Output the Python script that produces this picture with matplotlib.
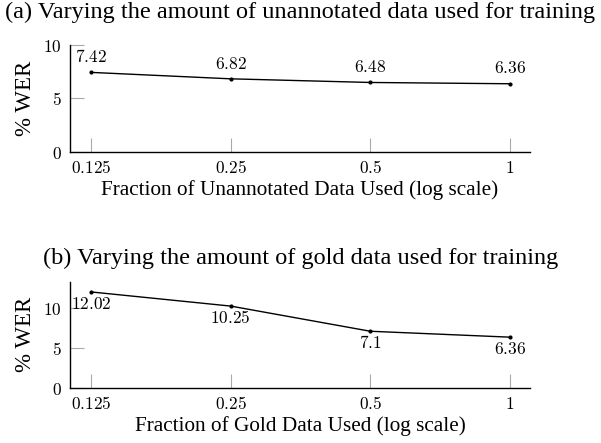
import matplotlib
matplotlib.use("Agg")
import matplotlib.pyplot as plt
import numpy as np

fractions = [0.125, 0.25, 0.5, 1]
tick_labels = ["0.125", "0.25", "0.5", "1"]
wer_unannotated = [7.42, 6.82, 6.48, 6.36]
wer_gold = [12.02, 10.25, 7.1, 6.36]
label_unannotated = ["7.42", "6.82", "6.48", "6.36"]
label_gold = ["12.02", "10.25", "7.1", "6.36"]

plt.rcParams["mathtext.fontset"] = "cm"

W, H = 601, 443
fig = plt.figure(figsize=(W / 100, H / 100), dpi=100)

serif = "Liberation Serif"

def m(s):
    return "$" + s + "$"

def px_rect(x0, y0, x1, y1):
    return [x0 / W, 1 - y1 / H, (x1 - x0) / W, (y1 - y0) / H]

xl = (0.125 * 2 ** (-21 / 140), 2 ** (20 / 140))

def setup(ax, ymax, yticks):
    ax.set_xscale("log", base=2)
    ax.set_xlim(*xl)
    ax.set_ylim(0, ymax)
    ax.set_xticks(fractions)
    ax.set_xticklabels([m(t) for t in tick_labels])
    ax.minorticks_off()
    ax.set_yticks(yticks)
    ax.set_yticklabels([m(str(t)) for t in yticks])
    for s in ["top", "right"]:
        ax.spines[s].set_visible(False)
    for s in ["left", "bottom"]:
        ax.spines[s].set_linewidth(1.0)
        ax.spines[s].set_color("black")
    ax.tick_params(axis="both", direction="in", length=10, width=0.8,
                   color="#aaaaaa", pad=6, labelsize=12.5)
    ax.tick_params(axis="x", pad=5)
    ax.set_ylabel("% WER", fontfamily=serif, fontsize=16.5, labelpad=5)
    ax.patch.set_alpha(0)

# Top panel
ax1 = fig.add_axes(px_rect(70, 44.7, 530, 152))
ax1.plot(fractions, wer_unannotated, color="black", lw=1.0, marker="o", ms=2)
setup(ax1, 10, [0, 5, 10])
for x, y, t in zip(fractions, wer_unannotated, label_unannotated):
    ax1.annotate(m(t), (x, y), xytext=(0, 11), textcoords="offset points",
                 ha="center", va="center", fontsize=12.5)
ax1.set_xlabel("Fraction of Unannotated Data Used (log scale)", fontfamily=serif,
               fontsize=15.3, labelpad=2)

# Bottom panel
ax2 = fig.add_axes(px_rect(70, 281.7, 530, 388))
ax2.plot(fractions, wer_gold, color="black", lw=1.0, marker="o", ms=2)
setup(ax2, 13.3, [0, 5, 10])
for x, y, t in zip(fractions, wer_gold, label_gold):
    ax2.annotate(m(t), (x, y), xytext=(0, -8.5), textcoords="offset points",
                 ha="center", va="center", fontsize=12.5)
ax2.set_xlabel("Fraction of Gold Data Used (log scale)", fontfamily=serif,
               fontsize=15.3, labelpad=2)

fig.text(0.5, 1 - 12 / H, "(a) Varying the amount of unannotated data used for training",
         ha="center", va="center", fontfamily=serif, fontsize=17.5)
fig.text(0.5, 1 - 258 / H, "(b) Varying the amount of gold data used for training",
         ha="center", va="center", fontfamily=serif, fontsize=17.5)

fig.savefig("out.png", dpi=100)
